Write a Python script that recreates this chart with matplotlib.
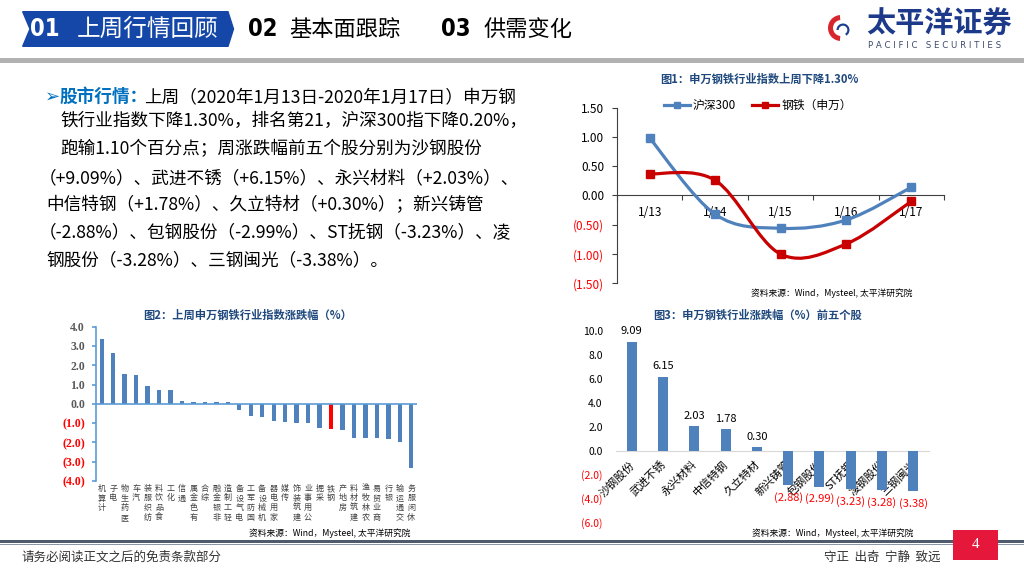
import matplotlib
matplotlib.use('Agg')
import matplotlib.pyplot as plt
from matplotlib.path import Path
from matplotlib.patches import PathPatch, Polygon, Rectangle, Wedge
from matplotlib.lines import Line2D
from matplotlib.transforms import ScaledTranslation
import numpy as np

W, H = 1024, 576

# 图1 数据
days = ['1/13', '1/14', '1/15', '1/16', '1/17']
hs300 = [0.98, -0.32, -0.56, -0.42, 0.14]
steel_sw = [0.37, 0.26, -1.00, -0.83, -0.10]

# 图2 数据
industries = ['计算机', '电子', '医药生物', '汽车', '纺织服装', '食品饮料', '化工', '通信',
              '有色金属', '综合', '非银金融', '轻工制造', '电气设备', '国防军工', '机械设备',
              '家用电器', '传媒', '建筑装饰', '公用事业', '采掘', '钢铁', '房地产', '建筑材料',
              '农林牧渔', '商业贸易', '银行', '交通运输', '休闲服务']
industry_chg = [3.38, 2.62, 1.55, 1.52, 0.95, 0.71, 0.71, 0.14, 0.12, 0.09, 0.07, 0.07,
                -0.31, -0.62, -0.69, -0.87, -0.93, -0.97, -1.00, -1.24, -1.30, -1.38,
                -1.75, -1.76, -1.79, -1.81, -1.97, -3.31]
highlight = '钢铁'

# 图3 数据
stocks = ['沙钢股份', '武进不锈', '永兴材料', '中信特钢', '久立特材',
          '新兴铸管', '包钢股份', 'ST抚钢', '凌钢股份', '三钢闽光']
stock_chg = [9.09, 6.15, 2.03, 1.78, 0.30, -2.88, -2.99, -3.23, -3.28, -3.38]

BAR_BLUE = '#4F81BD'
TITLE_BLUE = '#1F497D'
NEG_RED = '#FF0000'
SOURCE = '资料来源：Wind，Mysteel, 太平洋研究院'

plt.rcParams['font.family'] = ['Noto Sans CJK SC', 'DejaVu Sans']
plt.rcParams['axes.unicode_minus'] = False


def px_axes(fig, x0, y0, x1, y1):
    return fig.add_axes([x0 / W, 1 - y1 / H, (x1 - x0) / W, (y1 - y0) / H])


def smooth_path(xs, ys):
    # 类似 Excel 的平滑线
    pts = np.column_stack([xs, ys]).astype(float)
    n = len(pts)
    verts = [pts[0]]
    for i in range(n - 1):
        p_prev = pts[max(i - 1, 0)]
        p_next = pts[min(i + 2, n - 1)]
        verts += [pts[i] + (pts[i + 1] - p_prev) / 6,
                  pts[i + 1] - (p_next - pts[i]) / 6,
                  pts[i + 1]]
    codes = [Path.MOVETO] + [Path.CURVE4] * (3 * (n - 1))
    return Path(verts, codes)


def neg_fmt(v, d):
    return f'({abs(v):.{d}f})' if v < -1e-9 else f'{v:.{d}f}'


def color_ticks(labels, values, pos_color):
    for lab, v in zip(labels, values):
        lab.set_color(NEG_RED if v < -1e-9 else pos_color)


fig = plt.figure(figsize=(W / 100, H / 100), dpi=100)

# ---------- 页面背景元素 ----------
bg = fig.add_axes([0, 0, 1, 1])
bg.set_xlim(0, W)
bg.set_ylim(H, 0)
bg.axis('off')

NUM_FONT = dict(fontsize=17, fontweight='bold', fontstretch='condensed',
                family=['DejaVu Sans'], va='center', ha='left')
bg.add_patch(Polygon([(22.7, 11.7), (228, 11.7), (233.5, 29), (228, 46.3),
                      (22.7, 46.3), (30, 29)], closed=True, color='#1547A8'))
bg.text(30, 29.5, '01', color='white', **NUM_FONT)
bg.text(77, 29, '上周行情回顾', color='white', fontsize=17, va='center', ha='left')
bg.text(248, 29.5, '02', color='black', **NUM_FONT)
bg.text(289, 29, '基本面跟踪', color='black', fontsize=16, va='center', ha='left')
bg.text(441, 29.5, '03', color='black', **NUM_FONT)
bg.text(484, 29, '供需变化', color='black', fontsize=16, va='center', ha='left')
bg.add_patch(Rectangle((0, 58), W, 5, color='#B2B2B2', lw=0))

# logo
bg.add_patch(Wedge((841, 28), 13, 95, 265, width=5, color='#D7262E', lw=0))
bg.add_patch(Wedge((843, 30), 6.5, 180, 420, width=2.2, color='#1D3F8F', lw=0))
bg.text(866, 24, '太平洋证券', color='#1D3A8A', fontsize=21, fontweight='bold',
        va='center', ha='left')
bg.text(868, 46, 'P A C I F I C   S E C U R I T I E S', color='#3C4A6A', fontsize=6.2,
        va='center', ha='left', family=['DejaVu Sans'])

# 正文
TXT_BLUE = '#0070C0'
BODY_SIZE = 12.7
bg.text(45, 97, '➢', color=TXT_BLUE, fontsize=13, va='center', ha='left',
        family=['DejaVu Sans'])
bg.text(59, 97, '股市行情：', color=TXT_BLUE, fontsize=BODY_SIZE, fontweight='bold',
        va='center', ha='left')
bg.text(144, 97, '上周（2020年1月13日-2020年1月17日）申万钢', fontsize=BODY_SIZE,
        va='center', ha='left')
body = [
    (60, 121, '铁行业指数下降1.30%，排名第21，沪深300指下降0.20%，'),
    (60, 149, '跑输1.10个百分点；周涨跌幅前五个股分别为沙钢股份'),
    (39, 178, '（+9.09%）、武进不锈（+6.15%）、永兴材料（+2.03%）、'),
    (46, 205, '中信特钢（+1.78%）、久立特材（+0.30%）；新兴铸管'),
    (39, 232, '（-2.88%）、包钢股份（-2.99%）、ST抚钢（-3.23%）、凌'),
    (46, 260, '钢股份（-3.28%）、三钢闽光（-3.38%）。'),
]
for bx, by, s in body:
    bg.text(bx, by, s, fontsize=BODY_SIZE, va='center', ha='left')

# 标题 / 来源
TITLE_SIZE = 8.1
bg.text(759, 79, '图1：申万钢铁行业指数上周下降1.30%', color=TITLE_BLUE, fontsize=TITLE_SIZE,
        fontweight='bold', ha='center', va='center')
bg.text(832, 293, SOURCE, fontsize=6.3, ha='center', va='center')
bg.text(248, 315, '图2：上周申万钢铁行业指数涨跌幅（%）', color=TITLE_BLUE, fontsize=TITLE_SIZE,
        fontweight='bold', ha='center', va='center')
bg.text(330, 533, SOURCE, fontsize=6.3, ha='center', va='center')
bg.text(758, 315, '图3：申万钢铁行业涨跌幅（%）前五个股', color=TITLE_BLUE, fontsize=TITLE_SIZE,
        fontweight='bold', ha='center', va='center')
bg.text(833, 533, SOURCE, fontsize=6.3, ha='center', va='center')

# 页脚
bg.add_patch(Rectangle((0, 540), W, 2.6, color='#4E5A6E', lw=0))
bg.add_patch(Rectangle((0, 543.6), W, 0.9, color='#8C96A8', lw=0))
bg.text(22, 557, '请务必阅读正文之后的免责条款部分', fontsize=9, color='#333333',
        ha='left', va='center')
bg.text(940, 557, '守正  出奇  宁静  致远', fontsize=9, color='#333333',
        ha='right', va='center')
bg.add_patch(Rectangle((953, 530), 45, 30, color='#E5173A', lw=0))
bg.text(975.5, 545, '4', color='white', fontsize=11, ha='center', va='center',
        family=['Liberation Serif', 'DejaVu Serif'])

# ---------- 图1 ----------
ax1 = px_axes(fig, 617, 107.7, 944, 283.3)
x1 = np.arange(len(days))
series = [(hs300, '#4F81BD', '沪深300'), (steel_sw, '#C80000', '钢铁（申万）')]
handles = []
for vals, color, name in series:
    ax1.add_patch(PathPatch(smooth_path(x1, vals), fill=False, edgecolor=color,
                            lw=2.3, zorder=3, capstyle='round'))
    ax1.plot(x1, vals, ls='none', marker='s', ms=5.5, color=color, zorder=4)
    handles.append(Line2D([], [], color=color, lw=2.3, marker='s', ms=5, label=name))
ax1.legend(handles=handles, loc='center', bbox_to_anchor=(0.43, 1.011), ncol=2,
           frameon=False, fontsize=8.5, handlelength=2.2, handletextpad=0.3,
           columnspacing=1.3, borderaxespad=0, borderpad=0)
ax1.set_xlim(-0.5, len(days) - 0.5)
ax1.set_ylim(-1.5, 1.5)
for s in ('top', 'right'):
    ax1.spines[s].set_visible(False)
ax1.spines['bottom'].set_position(('data', 0))
for s in ('left', 'bottom'):
    ax1.spines[s].set_color('#3F3F3F')
    ax1.spines[s].set_linewidth(0.8)
ax1.set_xticks(np.arange(-0.5, len(days), 1))
ax1.tick_params(axis='x', which='major', length=3.5, width=0.8, color='#3F3F3F',
                labelbottom=False)
ax1.set_xticks(x1, minor=True)
ax1.set_xticklabels(days, minor=True)
ax1.tick_params(axis='x', which='minor', length=0, pad=7.5, labelsize=8.5)
yt1 = np.arange(-1.5, 1.51, 0.5)
ax1.set_yticks(yt1)
ax1.set_yticklabels([neg_fmt(v, 2) for v in yt1])
ax1.tick_params(axis='y', length=3.5, width=0.8, color='#3F3F3F', labelsize=8.5, pad=5.5)
color_ticks(ax1.get_yticklabels(), yt1, 'black')
ax1.patch.set_alpha(0)

# ---------- 图2 ----------
ax2 = px_axes(fig, 96, 326.7, 417, 481)
x2 = np.arange(len(industries))
bar_colors = [NEG_RED if n == highlight else BAR_BLUE for n in industries]
ax2.bar(x2, industry_chg, width=0.38, color=bar_colors, zorder=2)
ax2.axhline(0, color='#5B9BD5', lw=1.2, zorder=3)
ax2.set_xlim(-0.5, len(industries) - 0.5)
ax2.set_ylim(-4, 4)
for s in ('top', 'right', 'bottom'):
    ax2.spines[s].set_visible(False)
ax2.spines['left'].set_color('#5B9BD5')
ax2.spines['left'].set_linewidth(1.2)
yt2 = np.arange(-4, 4.01, 1)
ax2.set_yticks(yt2)
ax2.set_yticklabels([neg_fmt(v, 1) for v in yt2], family=['Liberation Serif', 'DejaVu Serif'],
                    fontweight='bold', fontsize=8.5)
ax2.tick_params(axis='y', length=3, width=1.2, color='#5B9BD5', pad=5)
color_ticks(ax2.get_yticklabels(), yt2, '#595959')
ax2.set_xticks(x2)
ax2.set_xticklabels(['\n'.join(reversed(n)) for n in industries], fontsize=5.8,
                    linespacing=1.1, color='#404040')
ax2.tick_params(axis='x', length=0, pad=2)
ax2.patch.set_alpha(0)

# ---------- 图3 ----------
ax3 = px_axes(fig, 616, 330.7, 929, 522.7)
x3 = np.arange(len(stocks))
ax3.bar(x3, stock_chg, width=0.32, color=BAR_BLUE, zorder=2)
for i, v in zip(x3, stock_chg):
    ax3.annotate(neg_fmt(v, 2), (i, v), xytext=(0, 4 if v > 0 else -5),
                 textcoords='offset points', ha='center',
                 va='bottom' if v > 0 else 'top', fontsize=8,
                 color='black' if v > 0 else NEG_RED, zorder=5)
ax3.set_xlim(-0.5, len(stocks) - 0.5)
ax3.set_ylim(-6, 10)
for s in ('top', 'right', 'left'):
    ax3.spines[s].set_visible(False)
ax3.spines['bottom'].set_position(('data', 0))
ax3.spines['bottom'].set_color('#D9D9D9')
ax3.spines['bottom'].set_zorder(1)
yt3 = np.arange(-6, 10.01, 2)
ax3.set_yticks(yt3)
ax3.set_yticklabels([neg_fmt(v, 1) for v in yt3])
ax3.tick_params(axis='y', length=0, pad=9.5, labelsize=7.5)
color_ticks(ax3.get_yticklabels(), yt3, 'black')
ax3.set_xticks(x3)
ax3.set_xticklabels(stocks, rotation=45, ha='right', va='top', fontsize=8)
ax3.tick_params(axis='x', length=0, pad=6)
shift = ScaledTranslation(5 / 100, 0, fig.dpi_scale_trans)
for lab in ax3.get_xticklabels():
    lab.set_transform(lab.get_transform() + shift)
    lab.set_zorder(6)
ax3.patch.set_alpha(0)

fig.savefig('out.png', dpi=100)
